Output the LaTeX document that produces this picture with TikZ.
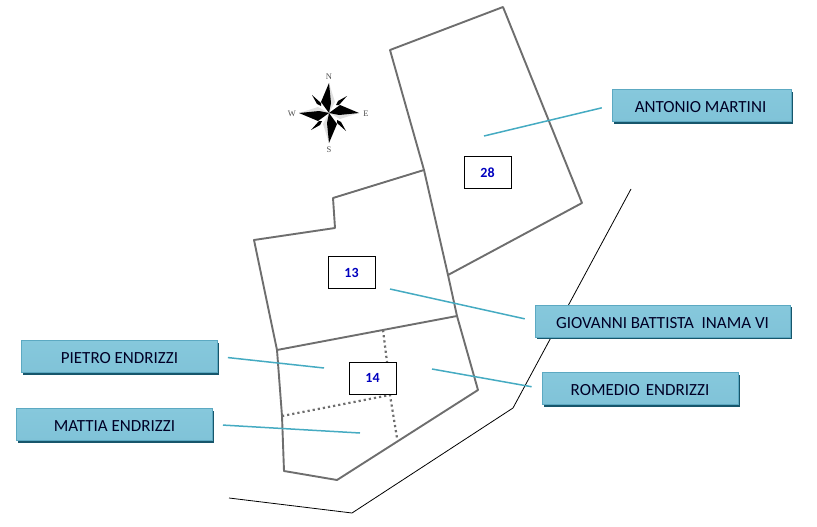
\documentclass[tikz,border=0pt]{standalone}
\usepackage{fontspec}
\setmainfont{Carlito}
\newfontfamily\compassfont{Liberation Serif}
\usetikzlibrary{shadows}
\definecolor{leadcol}{HTML}{45ABC2}
\definecolor{edgecol}{HTML}{5CA9C2}
\definecolor{topcol}{HTML}{86C8DC}
\definecolor{midcol}{HTML}{4A9BB9}
\definecolor{botcol}{HTML}{80C3D8}
\definecolor{shadecol}{HTML}{17566B}
\definecolor{plotcol}{HTML}{6E6E6E}
\tikzset{
 namebox/.style={rectangle, draw=edgecol, line width=1pt, top color=topcol, middle color=midcol, bottom color=botcol, text=black!85!blue, font=\fontsize{17}{20}\selectfont, inner sep=0pt, text height=14pt, text depth=0pt, minimum height=32pt, drop shadow={shadow xshift=1.8pt, shadow yshift=-2.2pt, opacity=1, fill=shadecol}},
 numbox/.style={rectangle, draw=black, fill=white, line width=0.9pt, text=blue!75!black, font=\fontsize{14}{16}\selectfont\bfseries, inner sep=0pt, minimum width=47pt, minimum height=32pt},
 plot/.style={draw=plotcol, line width=1.9pt, line join=round},
 plotdot/.style={draw=plotcol, line width=2.2pt, dash pattern=on 2.2pt off 3pt},
 lead/.style={draw=leadcol, line width=1.5pt},
 compassletter/.style={font=\compassfont\fontsize{8.5}{9}\selectfont, text=black!70, inner sep=0pt}
}
\begin{document}
\begin{tikzpicture}[x=1pt,y=-1pt]
 \useasboundingbox (0,0) rectangle (817,527);
 % road
 \draw[black, line width=0.8pt] (631,189) -- (513,408) -- (352,513) -- (229,498);
 % plots
 \draw[plot] (424,170) -- (390,50) -- (503,7) -- (582,203) -- (448,275) -- (424,170);
 \draw[plot] (424,170) -- (333,198) -- (335,228) -- (254,240) -- (277,350) -- (282,416) -- (284,471) -- (337,480) -- (478,390) -- (457,316) -- (448,275);
 \draw[plot] (277,350) -- (457,316);
 \draw[plotdot] (383,330) -- (387,362);
 \draw[plotdot] (282,416) -- (390,395) -- (397,438);
 % compass
 \foreach \ang in {0,-90,-180,-270}{
  \begin{scope}[shift={(329,113)},rotate=\ang]
   \fill[black!12] (0,-30) -- (6,-11) -- (0,0) -- cycle;
   \fill[black] (0,-30) -- (-8,-11) -- (0,0) -- (2,-10) -- cycle;
   \fill[black] (18,-17) -- (9,-12) -- (7,-8) -- (10,-8) -- cycle;
  \end{scope}
 }
 \node[compassletter] (north) at (329,77) {N};
 \node[compassletter] (south) at (329,150) {S};
 \node[compassletter] (west) at (292,114) {W};
 \node[compassletter] (east) at (366,114) {E};
 % numbers
 \node[numbox] (n28) at (487.5,172.5) {28};
 \node[numbox] (n13) at (351.5,272.5) {13};
 \node[numbox] (n14) at (372.5,378) {14};
 % owners
 \node[namebox, minimum width=179pt] (antonio) at (701.5,105.5) {\hspace{-2pt}ANTONIO MARTINI};
 \node[namebox, minimum width=255pt] (giovanni) at (662.5,321) {GIOVANNI BATTISTA\ \ INAMA VI};
 \node[namebox, minimum width=196pt] (romedio) at (640,388.5) {ROMEDIO\hspace{6pt}ENDRIZZI};
 \node[namebox, minimum width=196pt] (pietro) at (119.5,356.5) {PIETRO ENDRIZZI};
 \node[namebox, minimum width=196pt] (mattia) at (114.5,424.5) {MATTIA ENDRIZZI};
 % leader ends
 \coordinate (a) at (484,136);
 \coordinate (g) at (390,289);
 \coordinate (r) at (432,369);
 \coordinate (p) at (324,368);
 \coordinate (m) at (360,433);
 \draw[lead, shorten <=10pt] (antonio.west) -- (a);
 \draw[lead, shorten <=10pt] (giovanni.west) -- (g);
 \draw[lead, shorten <=10pt] (romedio.west) -- (r);
 \draw[lead, shorten <=10pt] (pietro.east) -- (p);
 \draw[lead, shorten <=10pt] (mattia.east) -- (m);
\end{tikzpicture}
\end{document}
